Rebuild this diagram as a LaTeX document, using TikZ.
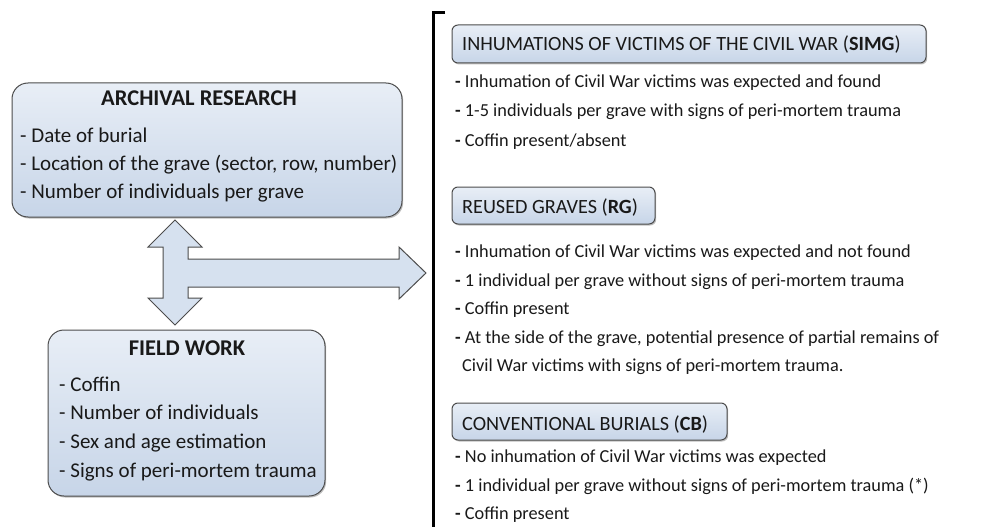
\documentclass[tikz,border=0pt]{standalone}
\usepackage{fontspec}
\setmainfont{Carlito}
\usetikzlibrary{shadows}
\begin{document}
\begin{tikzpicture}[x=1pt,y=-1pt,
  bluebox/.style={draw=black!70, line width=1pt, top color={rgb,255:red,232;green,238;blue,246}, bottom color={rgb,255:red,199;green,213;blue,232}, inner sep=0pt,
    drop shadow={shadow xshift=1.2pt, shadow yshift=-1.5pt, opacity=0.25, fill=black}},
  bigbox/.style={bluebox, rounded corners=16pt},
  headbox/.style={bluebox, rounded corners=6pt},
  ltxt/.style={anchor=base west, inner sep=0pt, font=\fontsize{21}{24}\selectfont, text=black!90},
  txt/.style={anchor=base west, inner sep=0pt, font=\fontsize{18.3}{21}\selectfont, text=black!90},
  ttl/.style={anchor=base, inner sep=0pt, font=\fontsize{22.5}{26}\selectfont\bfseries, text=black!90},
  htxt/.style={anchor=base west, inner sep=0pt, font=\fontsize{20.2}{24}\selectfont, text=black!90},
  arrowfill/.style={draw=black!70, line width=1pt, fill={rgb,255:red,214;green,225;blue,239}}
]
\useasboundingbox (0,0) rectangle (996,527);
% left boxes
\node[bigbox, minimum width=390pt, minimum height=134pt] (arch) at (207,150) {};
\node[ttl] (archt) at (199,106) {ARCHIVAL RESEARCH};
\node[ltxt] (a1) at (20,142) {- Date of burial};
\node[ltxt] (a2) at (20,170) {- Location of the grave (sector, row, number)};
\node[ltxt] (a3) at (20,198) {- Number of individuals per grave};

\node[bigbox, minimum width=277pt, minimum height=166pt] (field) at (186.5,413) {};
\node[ttl] (fieldt) at (187,355) {FIELD WORK};
\node[ltxt] (f1) at (59,391) {- Coffin};
\node[ltxt] (f2) at (59,419) {- Number of individuals};
\node[ltxt] (f3) at (59,448) {- Sex and age estimation};
\node[ltxt] (f4) at (59,477) {- Signs of peri-mortem trauma};

% block arrow
\coordinate (tipu) at (175,220);
\coordinate (tipd) at (175,325);
\coordinate (tipr) at (426,273);
\draw[arrowfill] (tipu) -- (202,247) -- (188,247) -- (188,259) -- (399,259) -- (399,247) -- (tipr)
  -- (399,299) -- (399,287) -- (188,287) -- (188,298) -- (202,298) -- (tipd) -- (148,298)
  -- (163,298) -- (163,247) -- (148,247) -- cycle;

% bracket
\coordinate (brtop) at (445,13);
\coordinate (brbot) at (433,530);
\draw[line width=3pt] (brtop) -- (433,13) -- (brbot);

% SIMG
\node[headbox, minimum width=474pt, minimum height=38pt] (simg) at (689,44) {};
\node[htxt] at (462,51) {INHUMATIONS OF VICTIMS OF THE CIVIL WAR (\textbf{SIMG})};
\node[txt] (s1) at (455,88) {\textbf{-} Inhumation of Civil War victims was expected and found};
\node[txt] (s2) at (455,117) {\textbf{-} 1-5 individuals per grave with signs of peri-mortem trauma};
\node[txt] (s3) at (455,146) {\textbf{-} Coffin present/absent};

% RG
\node[headbox, minimum width=203pt, minimum height=37pt] (rg) at (553.5,205.5) {};
\node[htxt] at (462,213) {REUSED GRAVES (\textbf{RG})};
\node[txt] (r1) at (455,257) {\textbf{-} Inhumation of Civil War victims was expected and not found};
\node[txt] (r2) at (455,286) {\textbf{-} 1 individual per grave without signs of peri-mortem trauma};
\node[txt] (r3) at (455,314) {\textbf{-} Coffin present};
\node[txt] (r4) at (455,343) {\textbf{-} At the side of the grave, potential presence of partial remains of};
\node[txt] (r5) at (462,371) {Civil War victims with signs of peri-mortem trauma.};

% CB
\node[headbox, minimum width=275pt, minimum height=37pt] (cb) at (589.5,421.5) {};
\node[htxt] at (462,430) {CONVENTIONAL BURIALS (\textbf{CB})};
\node[txt] (c1) at (455,462) {\textbf{-} No inhumation of Civil War victims was expected};
\node[txt] (c2) at (455,491) {\textbf{-} 1 individual per grave without signs of peri-mortem trauma (*)};
\node[txt] (c3) at (455,519) {\textbf{-} Coffin present};
\end{tikzpicture}
\end{document}
